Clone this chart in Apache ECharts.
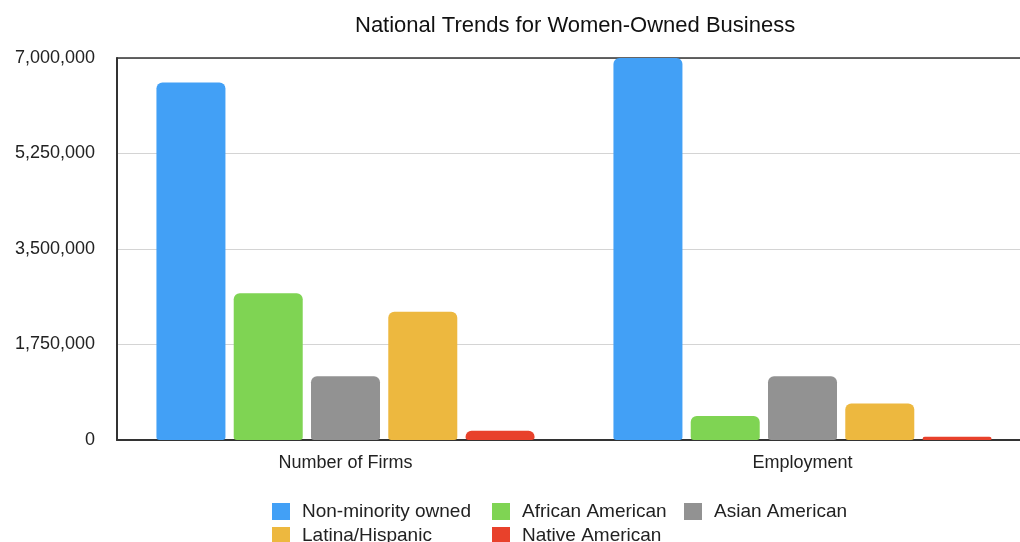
<!DOCTYPE html>
<html>
<head>
<meta charset="utf-8">
<script src="https://cdn.jsdelivr.net/npm/echarts@6/dist/echarts.min.js"></script>
<style>
  html, body { margin: 0; padding: 0; background: #fff; }
  #chart { width: 1020px; height: 542px; }
</style>
</head>
<body>
<div id="chart"></div>
<script>
// data
const categories = ["Number of Firms", "Employment"]
const nonMinority = [6550000, 7000000]
const africanAmerican = [2690000, 440000]
const asianAmerican = [1170000, 1170000]
const latinaHispanic = [2350000, 670000]
const nativeAmerican = [170000, 60000]
const yTicks = [0, 1750000, 3500000, 5250000, 7000000]

const FONT = 'Helvetica, "Liberation Sans", Arial, sans-serif'
const chart = echarts.init(document.getElementById("chart"))

const makeBar = (name, data, color) => ({
  name,
  type: "bar",
  data,
  barWidth: 69,
  barGap: "12%",
  itemStyle: { color, borderRadius: [6, 6, 3, 3] },
})

// one vertical legend per column so the two rows line up
const legendBase = {
  orient: "vertical",
  top: 502,
  height: 80,
  padding: 0,
  itemWidth: 18,
  itemHeight: 17,
  itemGap: 5,
  icon: "rect",
  textStyle: { fontFamily: FONT, fontSize: 19, lineHeight: 17, color: "#222", padding: [0, 0, 0, 7] },
}

const option = {
  backgroundColor: "#fff",
  animation: false,
  title: {
    text: "National Trends for Women-Owned Business",
    left: 350,
    top: 10,
    textStyle: { fontFamily: FONT, fontSize: 22, fontWeight: "normal", color: "#111" },
  },
  legend: [
    { ...legendBase, left: 272, data: ["Non-minority owned", "Latina/Hispanic"] },
    { ...legendBase, left: 492, data: ["African American", "Native American"] },
    { ...legendBase, left: 684, data: ["Asian American"] },
  ],
  // the plot runs past the right edge of the picture
  grid: { left: 117, width: 914, top: 58, bottom: 102, outerBoundsMode: "none" },
  xAxis: [
    {
      type: "category",
      data: categories,
      axisTick: { show: false },
      axisLine: { lineStyle: { color: "#333", width: 2 } },
      axisLabel: { fontFamily: FONT, fontSize: 18, color: "#222", margin: 14 },
    },
    {
      type: "category",
      position: "top",
      data: categories,
      axisTick: { show: false },
      axisLabel: { show: false },
      axisLine: { lineStyle: { color: "#333", width: 1.5 } },
    },
  ],
  yAxis: {
    type: "value",
    min: yTicks[0],
    max: yTicks[yTicks.length - 1],
    interval: yTicks[1] - yTicks[0],
    axisLine: { show: true, lineStyle: { color: "#333", width: 2 } },
    axisTick: { show: false },
    axisLabel: {
      fontFamily: FONT,
      fontSize: 18,
      color: "#222",
      margin: 22,
      padding: [6, 0, 0, 0],
      formatter: (v) => v.toLocaleString("en-US"),
    },
    splitLine: { lineStyle: { color: "#d4d4d4", width: 1 } },
  },
  series: [
    makeBar("Non-minority owned", nonMinority, "#42a0f6"),
    makeBar("African American", africanAmerican, "#7fd453"),
    makeBar("Asian American", asianAmerican, "#929292"),
    makeBar("Latina/Hispanic", latinaHispanic, "#edb83f"),
    makeBar("Native American", nativeAmerican, "#e8412b"),
  ],
}

chart.setOption(option)
</script>
</body>
</html>
